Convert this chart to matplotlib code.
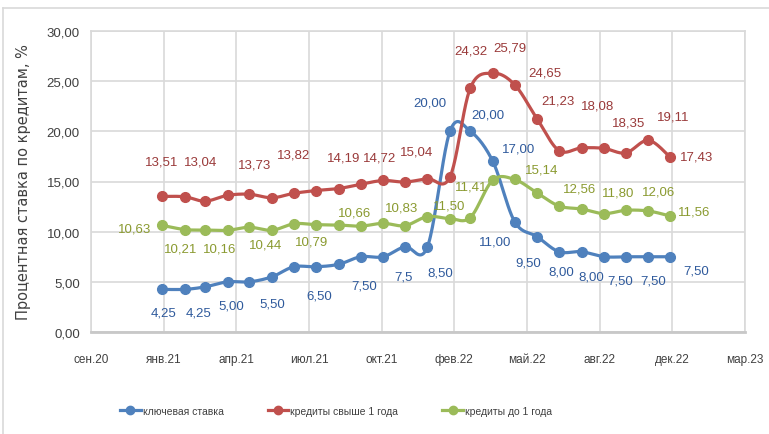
import numpy as np
import matplotlib
matplotlib.use('Agg')
import matplotlib.pyplot as plt
import matplotlib.dates as mdates
from matplotlib.lines import Line2D
from matplotlib.ticker import FixedLocator, FuncFormatter, MultipleLocator
from matplotlib import font_manager

# monthly observations, Jan 2021 .. Dec 2022
months = np.arange('2021-01', '2023-01', dtype='datetime64[M]')
key_rate = [4.25, 4.25, 4.50, 5.00, 5.00, 5.50, 6.50, 6.50, 6.75, 7.50, 7.50, 8.50,
            8.50, 20.00, 20.00, 17.00, 11.00, 9.50, 8.00, 8.00, 7.50, 7.50, 7.50, 7.50]
long_credit = [13.51, 13.48, 13.04, 13.62, 13.73, 13.38, 13.82, 14.10, 14.30, 14.72, 15.10, 14.95,
               15.28, 15.45, 24.32, 25.79, 24.65, 21.23, 18.08, 18.35, 18.30, 17.85, 19.11, 17.43]
short_credit = [10.63, 10.21, 10.16, 10.14, 10.44, 10.14, 10.79, 10.70, 10.66, 10.55, 10.83, 10.60,
                11.50, 11.30, 11.41, 15.14, 15.20, 13.86, 12.56, 12.26, 11.80, 12.13, 12.06, 11.56]
series_names = ['ключевая ставка', 'кредиты свыше 1 года', 'кредиты до 1 года']
month_names = ['янв', 'фев', 'мар', 'апр', 'май', 'июн', 'июл', 'авг', 'сен', 'окт', 'ноя', 'дек']

# data labels as shown on the chart: (point index, text, dx px, dy px)
key_labels = [(0, '4,25', 1, 23), (1, '4,25', 14, 23), (3, '5,00', 4, 24), (5, '5,50', 0, 27),
              (7, '6,50', 3, 29), (9, '7,50', 4, 29), (10, '7,5', 20, 20), (12, '8,50', 13, 26),
              (13, '20,00', -20, -29), (14, '20,00', 18, -17), (15, '17,00', 26, -13),
              (16, '11,00', -20, 20), (17, '9,50', -9, 26), (18, '8,00', 2, 20), (19, '8,00', 10, 25),
              (20, '7,50', 16, 24), (22, '7,50', 5, 24), (23, '7,50', 26, 14)]
long_labels = [(0, '13,51', -1, -35), (1, '13,04', 16, -35), (4, '13,73', 5, -30), (6, '13,82', 0, -39),
               (8, '14,19', 5, -31), (9, '14,72', 19, -27), (11, '15,04', 12, -31), (14, '24,32', 1, -37),
               (15, '25,79', 17, -26), (16, '24,65', 30, -12), (17, '21,23', 21, -18),
               (19, '18,08', 16, -42), (21, '18,35', 3, -30), (22, '19,11', 25, -24), (23, '17,43', 26, -1)]
short_labels = [(0, '10,63', -28, 3), (1, '10,21', -4, 19), (2, '10,16', 15, 18), (4, '10,44', 16, 17),
                (6, '10,79', 18, 18), (8, '10,66', 16, -13), (10, '10,83', 18, -16), (12, '11,50', 22, -11),
                (14, '11,41', 1, -31), (16, '15,14', 27, -10), (18, '12,56', 21, -17),
                (20, '11,80', 14, -21), (22, '12,06', 10, -19), (23, '11,56', 24, -5)]

line_colors = ['#4f81bd', '#c0504d', '#9bbb59']
text_colors = ['#2f5a9c', '#9a3a3a', '#8a9a30']

installed = {f.name for f in font_manager.fontManager.ttflist}
narrow = [f for f in ['Liberation Sans Narrow', 'DejaVu Sans Condensed', 'Liberation Sans'] if f in installed]
plt.rcParams['font.family'] = narrow + ['DejaVu Sans']


def smooth(x, y, n=24):
    # Excel-like smoothed line: cubic Bezier through points
    x = np.asarray(x, float)
    y = np.asarray(y, float)
    px = np.concatenate([[x[0]], x, [x[-1]]])
    py = np.concatenate([[y[0]], y, [y[-1]]])
    t = np.linspace(0, 1, n)[:, None]
    xs, ys = [], []
    for i in range(len(x) - 1):
        p0 = np.array([px[i + 1], py[i + 1]])
        p3 = np.array([px[i + 2], py[i + 2]])
        p1 = p0 + (p3 - np.array([px[i], py[i]])) / 6
        p2 = p3 - (np.array([px[i + 3], py[i + 3]]) - p0) / 6
        b = (1 - t) ** 3 * p0 + 3 * (1 - t) ** 2 * t * p1 + 3 * (1 - t) * t ** 2 * p2 + t ** 3 * p3
        xs.append(b[:, 0])
        ys.append(b[:, 1])
    return np.concatenate(xs), np.concatenate(ys)


W, H = 769, 435
fig = plt.figure(figsize=(W / 100, H / 100), dpi=100)
ax = fig.add_axes([91 / W, 1 - 333 / H, 654 / W, 301 / H])

x = mdates.date2num(months.astype('datetime64[D]'))
start = np.datetime64('2020-09-25')
ticks = mdates.date2num(start + np.arange(10) * np.timedelta64(100, 'D'))

all_series = [key_rate, long_credit, short_credit]
all_labels = [key_labels, long_labels, short_labels]
for vals, labs, lc, tc in zip(all_series, all_labels, line_colors, text_colors):
    sx, sy = smooth(x, vals)
    ax.plot(sx, sy, color=lc, lw=2.3, zorder=3, solid_capstyle='round')
    ax.plot(x, vals, 'o', color=lc, ms=7, zorder=4)
    for i, txt, dx, dy in labs:
        ax.annotate(txt, (x[i], vals[i]), xytext=(dx * 0.72, -dy * 0.72),
                    textcoords='offset points', ha='center', va='center',
                    color=tc, fontsize=9.5, zorder=5)

ax.set_xlim(ticks[0], ticks[-1])
ax.set_ylim(0, 30)
ax.xaxis.set_major_locator(FixedLocator(ticks))


def fmt_date(v, pos):
    d = mdates.num2date(v)
    return '%s.%02d' % (month_names[d.month - 1], d.year % 100)


ax.xaxis.set_major_formatter(FuncFormatter(fmt_date))
ax.yaxis.set_major_locator(MultipleLocator(5))
ax.yaxis.set_major_formatter(FuncFormatter(lambda v, p: ('%.2f' % v).replace('.', ',')))
ax.grid(True, color='#d9d9d9', lw=1.2)
ax.set_axisbelow(True)
for s in ax.spines.values():
    s.set_color('#d9d9d9')
    s.set_linewidth(1.2)
ax.spines['bottom'].set_color('#c8c8c8')
ax.spines['bottom'].set_linewidth(2)
ax.tick_params(length=0, labelsize=9.5, colors='#404040')
ax.tick_params(axis='x', pad=15, labelsize=8.5)
ax.tick_params(axis='y', pad=8)

ax.set_ylabel('Процентная ставка по кредитам, %', family='DejaVu Sans', fontsize=10.5,
              color='#404040')
ax.yaxis.set_label_coords(-60 / 654, 0.5)

handles = [Line2D([], [], color=c, lw=2.3, marker='o', ms=6) for c in line_colors]
fig.legend(handles, series_names, loc='center', bbox_to_anchor=(336 / W, 1 - 412 / H),
           ncol=3, frameon=False, fontsize=7.5, handlelength=2.0, handletextpad=0.2,
           columnspacing=4.2, labelcolor='#404040')

# outer chart border
fig.add_artist(Line2D([3 / W, 3 / W], [0, 1 - 9 / H], transform=fig.transFigure, color='#d9d9d9', lw=1.2))
fig.add_artist(Line2D([3 / W, 1], [1 - 9 / H, 1 - 9 / H], transform=fig.transFigure, color='#d9d9d9', lw=1.2))

fig.savefig('out.png', dpi=100)
